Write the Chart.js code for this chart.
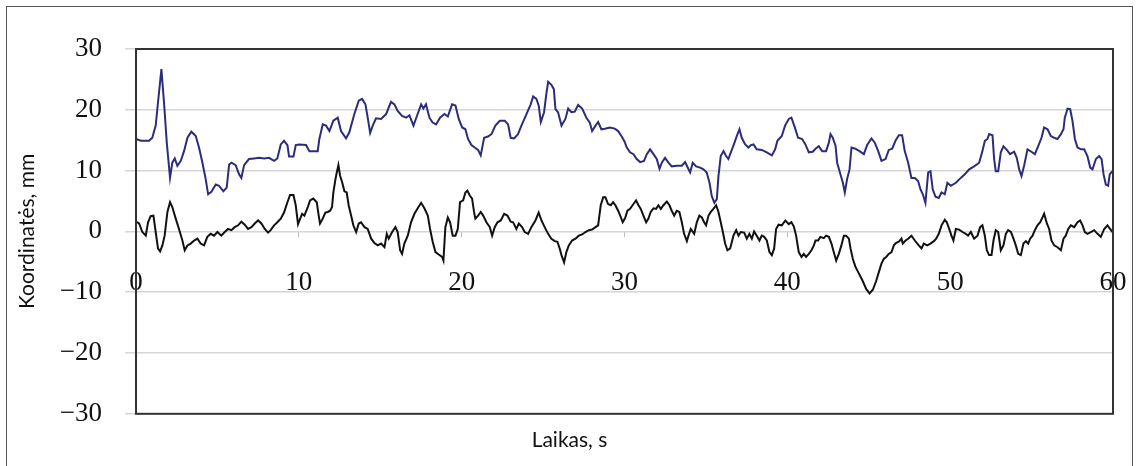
<!DOCTYPE html>
<html>
<head>
<meta charset="utf-8">
<script src="https://cdn.jsdelivr.net/npm/chart.js@4.4.1/dist/chart.umd.min.js"></script>
<style>
  html, body { margin: 0; padding: 0; background: #fff; }
  #wrap { position: relative; width: 1139px; height: 466px; overflow: hidden; }
  #frame { position: absolute; left: 6px; top: 6px; width: 1127px; height: 480px;
           border: 1.5px solid #555; box-sizing: border-box; }
  canvas { position: absolute; left: 0; top: 0; }
</style>
</head>
<body>
<div id="wrap">
  <div id="frame"></div>
  <canvas id="c" width="1139" height="466"></canvas>
</div>
<script>
// Time axis ticks (s)
const timeTicks = [0, 10, 20, 30, 40, 50, 60];
// Coordinate axis ticks (mm)
const coordTicks = [-30, -20, -10, 0, 10, 20, 30];

// Upper trace (blue): time, s
const blueTime = [
  0, 0.3, 0.8, 1.0, 1.21, 1.35, 1.56, 1.72, 1.89, 2.09, 2.23, 2.38, 2.54, 2.75, 2.95, 3.16, 3.4, 3.67, 3.87, 4.08,
  4.28, 4.43, 4.63, 4.9, 5.1, 5.37, 5.57, 5.72, 5.86, 6.12, 6.33, 6.47, 6.64, 6.94, 7.25, 7.56, 7.87, 8.17, 8.48, 8.68,
  8.89, 9.09, 9.3, 9.4, 9.67, 9.81, 10.01, 10.44, 10.65, 11.16, 11.26, 11.47, 11.67, 11.88, 12.12, 12.39, 12.59, 12.9, 13.1, 13.41,
  13.68, 13.88, 14.09, 14.23, 14.38, 14.54, 14.74, 15.05, 15.36, 15.66, 15.87, 16.07, 16.34, 16.59, 16.79, 17.04, 17.24, 17.51, 17.65, 17.81,
  18.02, 18.22, 18.43, 18.67, 18.94, 19.15, 19.41, 19.62, 19.82, 20.03, 20.23, 20.39, 20.6, 20.8, 21.01, 21.17, 21.38, 21.62, 21.83, 22.07,
  22.34, 22.65, 22.85, 23.01, 23.22, 23.46, 23.67, 23.98, 24.24, 24.39, 24.59, 24.73, 24.86, 25.06, 25.2, 25.31, 25.51, 25.66, 25.76, 25.92,
  26.13, 26.37, 26.54, 26.74, 26.95, 27.15, 27.4, 27.66, 27.87, 28.01, 28.22, 28.38, 28.58, 28.79, 29.1, 29.4, 29.61, 29.81, 30.0, 30.14,
  30.34, 30.55, 30.75, 30.96, 31.2, 31.37, 31.57, 31.78, 31.98, 32.15, 32.29, 32.49, 32.7, 32.9, 33.21, 33.52, 33.72, 33.83, 34.03, 34.19,
  34.4, 34.64, 34.85, 35.05, 35.22, 35.36, 35.52, 35.67, 35.77, 35.91, 36.08, 36.24, 36.38, 36.53, 36.69, 36.9, 37.06, 37.2, 37.41, 37.61,
  37.76, 37.92, 38.12, 38.43, 38.74, 39.05, 39.25, 39.39, 39.66, 39.86, 40.09, 40.25, 40.46, 40.66, 40.91, 41.11, 41.32, 41.56, 41.73, 41.93,
  42.14, 42.38, 42.55, 42.65, 42.79, 42.96, 43.06, 43.26, 43.41, 43.53, 43.67, 43.82, 43.94, 44.18, 44.43, 44.7, 44.9, 45.17, 45.37, 45.58,
  45.78, 46.03, 46.23, 46.44, 46.64, 46.85, 47.05, 47.21, 47.42, 47.62, 47.83, 48.03, 48.18, 48.32, 48.48, 48.65, 48.79, 48.93, 49.1, 49.3,
  49.47, 49.67, 49.83, 50.04, 50.35, 50.65, 50.9, 51.17, 51.47, 51.78, 51.98, 52.13, 52.29, 52.39, 52.6, 52.7, 52.8, 52.95, 53.11, 53.27,
  53.48, 53.68, 53.93, 54.09, 54.24, 54.38, 54.54, 54.75, 54.99, 55.2, 55.4, 55.61, 55.77, 55.98, 56.18, 56.39, 56.59, 56.8, 56.96, 57.04,
  57.21, 57.37, 57.51, 57.66, 57.82, 58.03, 58.23, 58.43, 58.6, 58.74, 58.95, 59.15, 59.3, 59.42, 59.56, 59.7, 59.8, 60
];
// Upper trace (blue): coordinate, mm
const blueCoord = [
  15.2, 14.9, 14.9, 15.4, 17.4, 21.2, 26.7, 21.2, 14.6, 8.8, 11.3, 12.0, 10.8, 11.6, 13.2, 15.4, 16.4, 15.7, 13.8, 11.3,
  8.6, 6.1, 6.5, 7.7, 7.5, 6.6, 7.2, 11.0, 11.3, 10.9, 9.4, 8.8, 10.9, 11.9, 12.0, 12.1, 12.0, 12.1, 11.6, 12.0,
  14.3, 14.9, 14.2, 12.3, 12.3, 14.2, 14.3, 14.2, 13.2, 13.2, 15.2, 17.6, 17.4, 16.5, 18.2, 18.7, 16.5, 15.3, 16.3, 19.3,
  21.5, 21.8, 20.9, 18.7, 16.2, 17.4, 18.6, 18.5, 19.3, 21.3, 20.9, 19.8, 19.0, 18.7, 19.1, 17.4, 18.9, 20.9, 20.2, 20.9,
  18.7, 17.9, 17.6, 18.7, 19.3, 18.9, 20.9, 20.7, 18.5, 17.1, 16.8, 15.2, 14.2, 13.8, 13.4, 12.5, 15.4, 15.6, 16.0, 17.4,
  18.2, 18.2, 17.6, 15.4, 15.3, 16.0, 17.4, 19.3, 20.9, 22.2, 21.8, 20.7, 18.0, 19.6, 22.6, 24.6, 24.1, 23.4, 20.1, 19.6,
  17.4, 18.5, 20.2, 19.6, 19.7, 20.8, 20.2, 18.7, 17.9, 16.5, 17.4, 18.0, 16.8, 16.9, 17.1, 16.9, 16.5, 15.7, 14.8, 13.8,
  13.0, 12.7, 11.9, 11.4, 11.6, 12.7, 13.5, 12.7, 11.9, 10.3, 11.3, 12.1, 11.3, 10.7, 10.8, 10.8, 11.4, 10.8, 9.7, 11.3,
  10.7, 10.5, 10.2, 9.7, 8.0, 5.8, 4.7, 5.3, 9.1, 12.4, 13.2, 12.4, 11.9, 13.0, 14.1, 15.7, 16.8, 15.4, 14.3, 13.8,
  14.2, 14.3, 13.5, 13.4, 13.0, 12.5, 13.5, 14.9, 15.7, 17.4, 18.5, 18.7, 17.1, 15.4, 15.2, 14.3, 13.0, 13.1, 13.6, 14.0,
  13.2, 13.2, 14.6, 16.0, 15.4, 14.1, 11.3, 9.4, 8.0, 6.4, 8.6, 10.2, 13.8, 13.6, 13.2, 12.7, 14.2, 15.3, 14.6, 13.2,
  11.6, 11.9, 13.4, 13.6, 14.9, 15.8, 15.8, 13.2, 11.3, 8.8, 8.8, 8.3, 6.9, 6.1, 4.7, 9.7, 9.9, 6.9, 5.7, 5.5,
  6.4, 6.1, 8.0, 7.5, 8.0, 8.8, 9.4, 10.2, 10.7, 11.3, 13.2, 14.9, 15.2, 16.0, 15.8, 11.9, 9.9, 9.9, 13.0, 14.0,
  13.4, 12.7, 13.1, 12.1, 10.2, 9.1, 10.8, 13.5, 13.1, 12.7, 14.0, 15.4, 17.1, 16.8, 15.7, 15.4, 15.2, 16.0, 16.8, 18.7,
  20.2, 20.1, 18.2, 15.2, 13.8, 13.5, 13.5, 12.4, 10.5, 10.2, 11.9, 12.4, 11.9, 9.4, 7.7, 7.5, 9.4, 10.0
];

// Lower trace (black): time, s
const blackTime = [
  0, 0.19, 0.39, 0.6, 0.74, 0.9, 1.07, 1.21, 1.35, 1.48, 1.62, 1.76, 1.93, 2.09, 2.23, 2.44, 2.64, 2.85, 2.99, 3.16,
  3.36, 3.57, 3.77, 3.97, 4.18, 4.38, 4.59, 4.79, 5.0, 5.24, 5.45, 5.65, 5.86, 6.06, 6.27, 6.47, 6.68, 6.88, 7.09, 7.29,
  7.5, 7.7, 7.91, 8.11, 8.27, 8.48, 8.68, 8.89, 9.09, 9.3, 9.46, 9.67, 9.81, 9.95, 10.2, 10.34, 10.55, 10.69, 10.89, 11.1,
  11.22, 11.3, 11.47, 11.63, 11.78, 11.92, 12.04, 12.12, 12.25, 12.33, 12.43, 12.53, 12.66, 12.8, 12.94, 13.06, 13.21, 13.35, 13.52, 13.68,
  13.82, 14.03, 14.23, 14.44, 14.64, 14.85, 15.05, 15.26, 15.4, 15.52, 15.73, 15.93, 16.07, 16.22, 16.34, 16.48, 16.69, 16.89, 17.1, 17.3,
  17.51, 17.71, 17.92, 18.06, 18.22, 18.39, 18.59, 18.8, 18.88, 19.0, 19.15, 19.29, 19.45, 19.62, 19.76, 19.9, 20.09, 20.23, 20.35, 20.5,
  20.64, 20.76, 20.84, 21.01, 21.17, 21.32, 21.52, 21.73, 21.87, 22.03, 22.2, 22.4, 22.61, 22.81, 23.01, 23.16, 23.36, 23.51, 23.71, 23.87,
  24.08, 24.28, 24.53, 24.73, 24.9, 25.1, 25.31, 25.51, 25.72, 25.88, 26.02, 26.13, 26.29, 26.43, 26.58, 26.78, 26.99, 27.19, 27.4, 27.6,
  27.81, 28.01, 28.22, 28.38, 28.54, 28.69, 28.83, 28.99, 29.16, 29.3, 29.44, 29.61, 29.75, 29.89, 30.04, 30.18, 30.34, 30.55, 30.71, 30.86,
  31.0, 31.16, 31.33, 31.47, 31.61, 31.78, 31.94, 32.08, 32.23, 32.39, 32.6, 32.76, 32.9, 33.05, 33.21, 33.37, 33.52, 33.66, 33.83, 33.93,
  34.07, 34.28, 34.44, 34.6, 34.75, 34.89, 35.01, 35.16, 35.3, 35.46, 35.63, 35.77, 35.91, 36.04, 36.18, 36.32, 36.49, 36.69, 36.86, 37.0,
  37.14, 37.35, 37.51, 37.67, 37.82, 37.96, 38.12, 38.29, 38.43, 38.58, 38.74, 38.9, 39.05, 39.19, 39.31, 39.46, 39.66, 39.88, 40.09, 40.25,
  40.4, 40.54, 40.7, 40.87, 41.01, 41.15, 41.32, 41.48, 41.63, 41.73, 41.89, 42.03, 42.24, 42.38, 42.55, 42.71, 42.85, 43.0, 43.16, 43.32,
  43.47, 43.61, 43.78, 43.88, 44.02, 44.18, 44.39, 44.6, 44.85, 45.05, 45.25, 45.45, 45.62, 45.78, 45.93, 46.07, 46.23, 46.4, 46.54, 46.68,
  46.85, 47.01, 47.09, 47.26, 47.42, 47.62, 47.83, 48.07, 48.24, 48.38, 48.59, 48.79, 49.0, 49.14, 49.3, 49.47, 49.67, 49.79, 49.94, 50.08,
  50.2, 50.35, 50.55, 50.76, 50.96, 51.1, 51.27, 51.47, 51.68, 51.84, 51.98, 52.13, 52.25, 52.39, 52.54, 52.66, 52.8, 52.95, 53.11, 53.27,
  53.42, 53.56, 53.73, 53.89, 54.03, 54.18, 54.34, 54.5, 54.65, 54.79, 54.91, 55.06, 55.2, 55.36, 55.53, 55.67, 55.77, 55.94, 56.08, 56.22,
  56.39, 56.59, 56.8, 56.96, 57.1, 57.25, 57.41, 57.62, 57.82, 57.98, 58.13, 58.27, 58.43, 58.64, 58.84, 59.05, 59.25, 59.46, 59.66, 59.82,
  60
];
// Lower trace (black): coordinate, mm
const blackCoord = [
  1.6, 1.3, -0.1, -0.7, 1.5, 2.5, 2.6, -0.1, -2.8, -3.3, -2.3, -0.7, 3.2, 4.8, 4.0, 2.1, 0.4, -1.5, -3.1, -2.3,
  -2.0, -1.5, -1.2, -2.0, -2.3, -0.9, -0.4, -0.7, -0.1, -0.7, -0.1, 0.4, 0.2, 0.7, 1.0, 1.6, 1.1, 0.4, 0.7, 1.3,
  1.8, 1.3, 0.4, -0.2, 0.2, 1.0, 1.5, 2.1, 3.1, 4.8, 6.0, 6.0, 4.3, 1.2, 2.9, 2.6, 4.0, 5.1, 5.4, 4.8,
  2.6, 1.3, 2.1, 3.1, 3.2, 3.4, 4.0, 6.4, 8.6, 9.7, 10.9, 9.2, 8.1, 6.6, 6.4, 4.3, 2.6, 1.0, -0.1, 1.3,
  1.5, 0.7, 0.4, -1.2, -1.9, -2.3, -2.0, -2.6, -0.4, -1.2, -0.1, 0.7, -0.1, -3.1, -3.7, -2.0, -0.7, 1.5, 2.9, 3.8,
  4.7, 3.8, 2.6, 0.4, -1.7, -3.4, -3.8, -4.2, -4.8, 0.7, 2.3, 1.5, -0.7, -0.7, 0.4, 4.8, 5.1, 6.4, 6.7, 5.9,
  5.4, 3.2, 2.1, 2.6, 3.2, 2.6, 1.5, 0.7, -0.7, 0.7, 1.5, 1.8, 2.9, 2.6, 1.6, 1.5, 0.4, 1.3, 0.7, -0.1,
  -0.4, 0.7, 1.8, 3.1, 1.8, 0.7, -0.4, -1.2, -1.6, -1.7, -2.8, -3.9, -5.1, -3.4, -2.3, -1.5, -1.2, -0.7, -0.5, -0.1,
  0.2, 0.3, 0.7, 1.0, 4.3, 5.6, 5.6, 4.5, 4.3, 4.8, 4.3, 3.4, 2.5, 1.5, 2.2, 3.4, 3.7, 4.5, 5.1, 4.3,
  3.7, 2.6, 1.5, 2.1, 3.2, 3.8, 3.7, 4.3, 3.7, 4.3, 4.9, 4.3, 3.4, 2.6, 3.4, 3.2, 1.5, -0.4, -1.6, -0.7,
  0.4, -0.4, 1.5, 2.6, 2.3, 1.5, 1.0, 2.6, 3.2, 3.7, 4.3, 3.2, 1.5, -0.1, -2.0, -3.1, -2.8, -0.7, 0.2, -0.7,
  -0.1, -0.2, -1.2, -0.4, -1.2, 0.0, -0.7, -1.5, -0.7, -0.9, -1.5, -3.4, -3.9, -2.8, 0.4, 1.1, 1.0, 1.8, 1.2, 1.5,
  0.8, -0.7, -3.4, -4.2, -3.7, -4.2, -3.7, -3.1, -2.3, -1.5, -1.5, -0.9, -1.1, -0.7, -0.9, -2.0, -3.4, -4.8, -3.7, -2.3,
  -0.7, -0.7, -1.2, -2.8, -4.5, -5.8, -6.9, -8.0, -9.5, -10.2, -9.6, -8.2, -6.7, -5.3, -4.5, -4.2, -3.7, -3.4, -2.3, -1.9,
  -1.7, -1.2, -2.0, -1.5, -1.2, -0.7, -1.5, -2.3, -2.8, -2.0, -2.3, -2.0, -1.6, -1.2, -0.4, 1.0, 1.9, 1.5, 0.4, -0.7,
  -1.5, 0.4, 0.3, -0.1, -0.4, -0.7, -0.1, -1.2, -0.7, 0.7, 1.0, -0.7, -3.1, -3.9, -3.9, -1.5, 0.2, -0.1, -3.1, -2.3,
  -0.4, 0.2, -0.1, -1.2, -2.3, -3.7, -3.9, -2.0, -1.6, -2.0, -1.2, -0.7, 0.2, 1.0, 1.5, 2.3, 2.9, 1.3, 0.4, -1.5,
  -2.3, -2.6, -3.1, -1.2, -0.7, 0.4, 1.0, 0.7, 1.5, 1.8, 1.0, -0.1, -0.4, -0.1, 0.2, -0.4, -0.9, 0.4, 1.0, 0.4,
  -0.2
];

const toPoints = (ts, vs) => ts.map((t, i) => ({ x: t, y: vs[i] }));
const minusLabel = v => (v < 0 ? '\u2212' + Math.abs(v) : String(v));

// Dark frame round the plotting area
const plotFrame = {
  id: 'plotFrame',
  afterDatasetsDraw(chart) {
    const { ctx, chartArea: a } = chart;
    ctx.save();
    ctx.strokeStyle = '#333';
    ctx.lineWidth = 2;
    ctx.strokeRect(a.left, a.top, a.right - a.left, a.bottom - a.top);
    ctx.restore();
  }
};

const serif = { family: '"Liberation Serif", "Times New Roman", serif', size: 27 };
const sans = { family: 'Lato, "Open Sans", sans-serif', size: 21, weight: 'normal' };

new Chart(document.getElementById('c'), {
  type: 'line',
  data: {
    datasets: [
      {
        data: toPoints(blueTime, blueCoord),
        borderColor: '#2c2d7a',
        borderWidth: 2,
        pointRadius: 0,
        tension: 0,
        fill: false
      },
      {
        data: toPoints(blackTime, blackCoord),
        borderColor: '#111',
        borderWidth: 2,
        pointRadius: 0,
        tension: 0,
        fill: false
      }
    ]
  },
  options: {
    responsive: false,
    animation: false,
    events: [],
    layout: { padding: { top: 49, right: 26, left: 26, bottom: 0 } },
    plugins: {
      legend: { display: false },
      tooltip: { enabled: false },
      title: {
        display: true,
        position: 'bottom',
        text: 'Laikas, s',
        color: '#111',
        font: sans,
        padding: { top: 14, bottom: 13 }
      }
    },
    scales: {
      x: {
        type: 'linear',
        position: { y: 0 },
        min: timeTicks[0],
        max: timeTicks[timeTicks.length - 1],
        afterBuildTicks: s => { s.ticks = timeTicks.map(v => ({ value: v })); },
        afterFit: s => { s.height = 0; s.paddingLeft = 0; s.paddingRight = 0; },
        ticks: { font: serif, color: '#111', padding: 29, maxRotation: 0, autoSkip: false },
        grid: { drawOnChartArea: false, tickLength: 6, color: '#bbb', lineWidth: 1 },
        border: { display: false }
      },
      y: {
        type: 'linear',
        position: 'left',
        min: coordTicks[0],
        max: coordTicks[coordTicks.length - 1],
        afterBuildTicks: s => { s.ticks = coordTicks.map(v => ({ value: v })); },
        afterFit: s => { s.width = 110; },
        ticks: { font: serif, color: '#111', padding: 23, callback: minusLabel },
        grid: { color: '#d6d6d6', lineWidth: 1.5, tickLength: 11 },
        border: { display: false },
        title: {
          display: true,
          text: 'Koordinatės, mm',
          color: '#111',
          font: sans,
          padding: { top: -11, bottom: 0 }
        }
      }
    }
  },
  plugins: [plotFrame]
});
</script>
</body>
</html>
